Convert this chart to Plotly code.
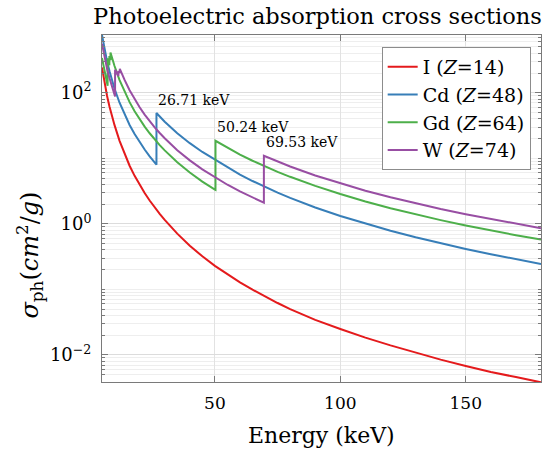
import math
import plotly.graph_objects as go

# ---------------- data ----------------
I_E = [5, 6, 7, 8, 9, 10, 12, 14, 16, 18, 20, 22, 24, 26, 28, 30, 35, 40, 45, 50,
       55, 60, 65, 70, 75, 80, 90, 100, 110, 120, 130, 140, 150, 160, 170, 180]
I_V = [243, 143, 90, 61, 43, 32, 18.5, 11.5, 7.7, 5.4, 3.95, 2.95, 2.27, 1.78, 1.42, 1.15,
       0.71, 0.465, 0.32, 0.229, 0.17, 0.128, 0.099, 0.078, 0.062, 0.050, 0.0343, 0.0249,
       0.0184, 0.0140, 0.0108, 0.0085, 0.0068, 0.0055, 0.0046, 0.00383]

Cd_E = [5, 6, 7, 8, 9, 10, 12, 14, 16, 18, 20, 22, 24, 26, 26.71, 26.71, 28, 30, 35, 40,
        45, 50, 55, 60, 65, 70, 75, 80, 90, 100, 110, 120, 130, 140, 150, 160, 170, 180]
Cd_V = [760, 463, 304, 212, 154, 115, 70.4, 46.3, 32.2, 23.4, 17.5, 13.6, 10.7, 8.6, 8.0, 49,
        43.3, 36.1, 24.1, 17.0, 12.5, 9.5, 7.24, 5.65, 4.50, 3.64, 2.99, 2.49, 1.78, 1.32,
        1.005, 0.784, 0.623, 0.504, 0.414, 0.344, 0.289, 0.245]

Gd_E = [5, 6, 7, 7.24, 7.24, 7.93, 7.93, 8.38, 8.38, 9, 10, 12, 14, 16, 18, 20, 22, 24, 26,
        28, 30, 35, 40, 45, 50, 50.24, 50.24, 55, 60, 65, 70, 75, 80, 90, 100, 110, 120, 130,
        140, 150, 160, 170, 180]
Gd_V = [339, 211, 141, 128, 335, 262, 365, 314, 412, 340, 256, 156, 103, 71.9, 52.3, 39.3,
        30.4, 24.1, 19.4, 15.9, 13.2, 8.68, 6.06, 4.40, 3.32, 3.29, 18.5, 14.46, 11.41, 9.18,
        7.51, 6.22, 5.22, 3.79, 2.85, 2.19, 1.73, 1.39, 1.14, 0.944, 0.792, 0.672, 0.575]

W_E = [5, 6, 7, 8, 9, 10, 10.21, 10.21, 11.54, 11.54, 12.1, 12.1, 13, 14, 16, 18, 20, 22, 24,
       26, 28, 30, 35, 40, 45, 50, 55, 60, 65, 69.53, 69.53, 75, 80, 90, 100, 110, 120, 130,
       140, 150, 160, 170, 180]
W_V = [560, 349, 234, 166, 122, 93, 88, 224, 180, 215, 200, 232, 191, 157, 109, 79.7, 60.0,
       46.5, 36.8, 29.6, 24.3, 20.2, 13.3, 9.31, 6.78, 5.10, 3.95, 3.13, 2.52, 2.10, 10.9,
       8.91, 7.49, 5.47, 4.13, 3.20, 2.54, 2.05, 1.68, 1.40, 1.18, 1.00, 0.86]

SERIES_NAMES = ["I (<i>Z</i>=14)", "Cd (<i>Z</i>=48)", "Gd (<i>Z</i>=64)", "W (<i>Z</i>=74)"]
COLORS = ["#e41a1c", "#377eb8", "#4daf4a", "#984ea3"]

EDGE_E = [26.71, 50.24, 69.53]          # K-edges annotated
EDGE_TOP = [49, 18.5, 10.9]             # values just above each edge
EDGE_LABELS = ["26.71 keV", "50.24 keV", "69.53 keV"]

X_RANGE = [5, 180]
X_TICKS = [50, 100, 150]
Y_RANGE = [0.00387, 760]
Y_TICKS = [0.01, 1, 100]
Y_TICKTEXT = ["10<sup>−2</sup>", "10<sup>0</sup>", "10<sup>2</sup>"]

TITLE = "Photoelectric absorption cross sections"
XLABEL = "Energy (keV)"
YLABEL = "<i>σ</i><sub>ph</sub>(<i>cm</i><sup>2</sup>/<i>g</i>)"

# ---------------- figure ----------------
FONT = "DejaVu Serif"
fig = go.Figure()
for E, V, name, col in zip([I_E, Cd_E, Gd_E, W_E], [I_V, Cd_V, Gd_V, W_V], SERIES_NAMES, COLORS):
    fig.add_trace(go.Scatter(x=E, y=V, mode="lines", name=name,
                             line=dict(color=col, width=2)))

annotations = []
for e, top, lab in zip(EDGE_E, EDGE_TOP, EDGE_LABELS):
    annotations.append(dict(x=e, y=math.log10(top * 1.6), xref="x", yref="y", text=lab,
                            showarrow=False, xanchor="left", yanchor="middle",
                            font=dict(family=FONT, size=14, color="black")))

annotations.append(dict(x=0.49, y=1.055, xref="paper", yref="paper", text=TITLE,
                        showarrow=False, xanchor="center", yanchor="middle",
                        font=dict(family=FONT, size=22.5, color="black")))
annotations.append(dict(x=0.5, y=-0.153, xref="paper", yref="paper", text=XLABEL,
                        showarrow=False, xanchor="center", yanchor="middle",
                        font=dict(family=FONT, size=22, color="black")))
annotations.append(dict(x=-0.165, y=0.366, xref="paper", yref="paper", text=YLABEL,
                        showarrow=False, xanchor="center", yanchor="middle", textangle=-90,
                        font=dict(family=FONT, size=24, color="black")))

AX = "#7a7a7a"
fig.update_layout(
    width=554, height=452,
    margin=dict(l=102, r=13, t=35, b=70),
    paper_bgcolor="white", plot_bgcolor="white",
    font=dict(family=FONT, color="black"),
    showlegend=True,
    legend=dict(x=0.9765, y=0.9654, xanchor="right", yanchor="top",
                bgcolor="white", bordercolor="#8c8c8c", borderwidth=1,
                font=dict(family=FONT, size=19), itemwidth=30),
    annotations=annotations,
    xaxis=dict(range=X_RANGE, tickvals=X_TICKS, ticks="inside", ticklen=6, tickcolor=AX,
               showline=True, linecolor=AX, linewidth=1, mirror="allticks",
               showgrid=True, gridcolor="#e2e2e2", zeroline=False,
               tickfont=dict(family=FONT, size=17), ticklabelstandoff=6),
    yaxis=dict(type="log", range=[math.log10(Y_RANGE[0]), math.log10(Y_RANGE[1])],
               tickvals=Y_TICKS, ticktext=Y_TICKTEXT, ticks="inside", ticklen=6, tickcolor=AX,
               showline=True, linecolor=AX, linewidth=1, mirror="allticks",
               showgrid=True, gridcolor="#dcdcdc", zeroline=False,
               tickfont=dict(family=FONT, size=18), ticklabelstandoff=6,
               minor=dict(dtick="D1", ticks="inside", ticklen=3, tickcolor=AX,
                          showgrid=True, gridcolor="#eeeeee")),
)

fig.write_html("out.html")
